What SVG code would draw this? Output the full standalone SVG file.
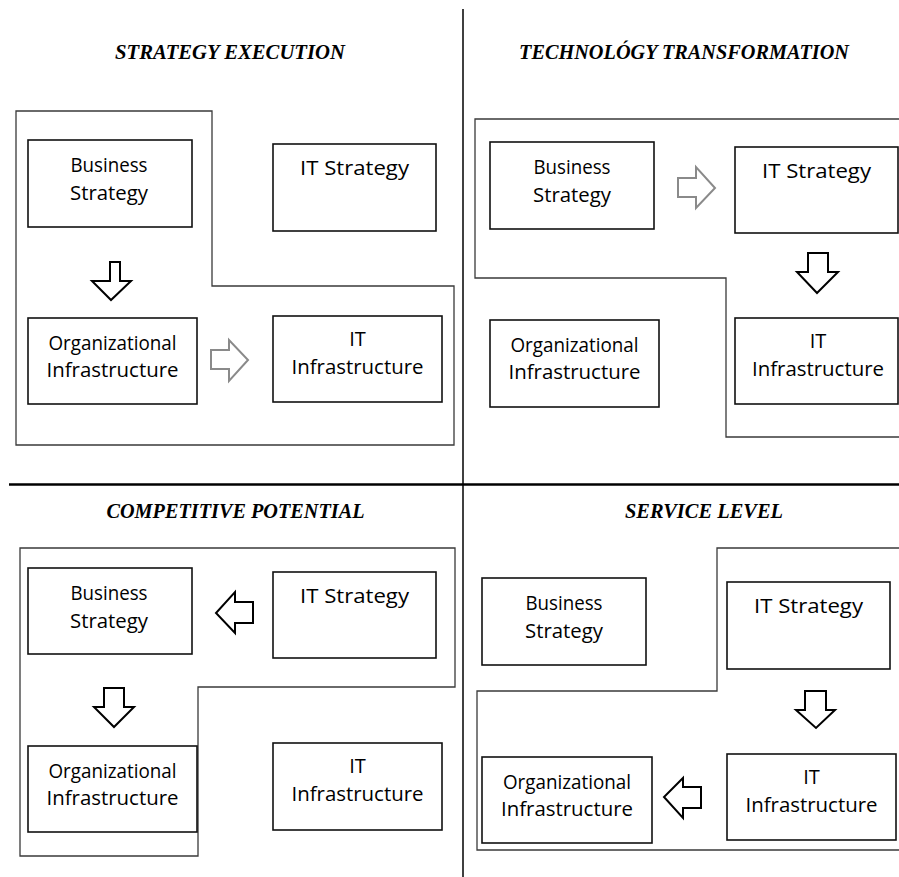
<svg xmlns="http://www.w3.org/2000/svg" width="899" height="877" viewBox="0 0 899 877">
  <style>
    .bg { fill: #ffffff; }
    .divider { stroke: #000; fill: none; }
    .frame { fill: none; stroke: #3a3a3a; stroke-width: 1.3; }
    .box rect { fill: #ffffff; stroke: #111; stroke-width: 1.6; }
    .box text { font-family: "Open Sans", "DejaVu Sans", sans-serif; font-size: 20px; fill: #000; text-anchor: middle; }
    .title { font-family: "Liberation Serif", "DejaVu Serif", serif; font-weight: bold; font-style: italic; font-size: 20px; fill: #000; text-anchor: middle; }
    .arrow { fill: #ffffff; stroke: #000; stroke-width: 2; stroke-linejoin: miter; }
    .arrow.gray { stroke: #8a8a8a; }
  </style>

  <rect class="bg" x="0" y="0" width="899" height="877"/>

  <!-- quadrant dividers -->
  <line class="divider" x1="463" y1="9" x2="463" y2="877" stroke-width="1.5"/>
  <line class="divider" x1="9" y1="484.5" x2="899" y2="484.5" stroke-width="2.6"/>

  <!-- quadrant titles -->
  <text class="title" x="230" y="59" textLength="230" lengthAdjust="spacingAndGlyphs">STRATEGY EXECUTION</text>
  <text class="title" x="684" y="59" textLength="330" lengthAdjust="spacingAndGlyphs">TECHNOLÓGY TRANSFORMATION</text>
  <text class="title" x="235.5" y="518" textLength="258" lengthAdjust="spacingAndGlyphs">COMPETITIVE POTENTIAL</text>
  <text class="title" x="704" y="518" textLength="158" lengthAdjust="spacingAndGlyphs">SERVICE LEVEL</text>

  <!-- alignment perspective outlines -->
  <g id="frames">
    <path class="frame" d="M16,111 H212 V286 H454 V445 H16 Z"/>
    <path class="frame" d="M905,119 H475 V278 H726 V437 H905"/>
    <path class="frame" d="M20,548 H455 V687 H198 V856 H20 Z"/>
    <path class="frame" d="M905,548 H717 V691 H477 V850 H905"/>
  </g>

  <!-- Strategy execution -->
  <g id="se-business-strategy" class="box">
    <rect x="28" y="140" width="164" height="87"/>
    <text x="109" y="171.5" textLength="77" lengthAdjust="spacingAndGlyphs">Business</text>
    <text x="109" y="200" textLength="78" lengthAdjust="spacingAndGlyphs">Strategy</text>
  </g>
  <g id="se-it-strategy" class="box">
    <rect x="273" y="144" width="163" height="87"/>
    <text x="354.5" y="175" textLength="109" lengthAdjust="spacingAndGlyphs">IT Strategy</text>
  </g>
  <g id="se-org-infrastructure" class="box">
    <rect x="28" y="318" width="169" height="86"/>
    <text x="112.5" y="349.5" textLength="128" lengthAdjust="spacingAndGlyphs">Organizational</text>
    <text x="112.5" y="377" textLength="132" lengthAdjust="spacingAndGlyphs">Infrastructure</text>
  </g>
  <g id="se-it-infrastructure" class="box">
    <rect x="273" y="316" width="169" height="86"/>
    <text x="357.5" y="346">IT</text>
    <text x="357.5" y="374" textLength="132" lengthAdjust="spacingAndGlyphs">Infrastructure</text>
  </g>

  <!-- Technology transformation -->
  <g id="tt-business-strategy" class="box">
    <rect x="490" y="142" width="164" height="87"/>
    <text x="572" y="173.5" textLength="77" lengthAdjust="spacingAndGlyphs">Business</text>
    <text x="572" y="202" textLength="78" lengthAdjust="spacingAndGlyphs">Strategy</text>
  </g>
  <g id="tt-it-strategy" class="box">
    <rect x="735" y="147" width="163" height="86"/>
    <text x="816.5" y="178" textLength="109" lengthAdjust="spacingAndGlyphs">IT Strategy</text>
  </g>
  <g id="tt-org-infrastructure" class="box">
    <rect x="490" y="320" width="169" height="87"/>
    <text x="574.5" y="351.5" textLength="128" lengthAdjust="spacingAndGlyphs">Organizational</text>
    <text x="574.5" y="379" textLength="132" lengthAdjust="spacingAndGlyphs">Infrastructure</text>
  </g>
  <g id="tt-it-infrastructure" class="box">
    <rect x="735" y="318" width="163" height="86"/>
    <text x="818" y="348">IT</text>
    <text x="818" y="376" textLength="132" lengthAdjust="spacingAndGlyphs">Infrastructure</text>
  </g>

  <!-- Competitive potential -->
  <g id="cp-business-strategy" class="box">
    <rect x="28" y="568" width="164" height="86"/>
    <text x="109" y="599.5" textLength="77" lengthAdjust="spacingAndGlyphs">Business</text>
    <text x="109" y="628" textLength="78" lengthAdjust="spacingAndGlyphs">Strategy</text>
  </g>
  <g id="cp-it-strategy" class="box">
    <rect x="273" y="572" width="163" height="86"/>
    <text x="354.5" y="603" textLength="109" lengthAdjust="spacingAndGlyphs">IT Strategy</text>
  </g>
  <g id="cp-org-infrastructure" class="box">
    <rect x="28" y="746" width="169" height="86"/>
    <text x="112.5" y="777.5" textLength="128" lengthAdjust="spacingAndGlyphs">Organizational</text>
    <text x="112.5" y="805" textLength="132" lengthAdjust="spacingAndGlyphs">Infrastructure</text>
  </g>
  <g id="cp-it-infrastructure" class="box">
    <rect x="273" y="743" width="169" height="87"/>
    <text x="357.5" y="773">IT</text>
    <text x="357.5" y="801" textLength="132" lengthAdjust="spacingAndGlyphs">Infrastructure</text>
  </g>

  <!-- Service level -->
  <g id="sl-business-strategy" class="box">
    <rect x="482" y="578" width="164" height="87"/>
    <text x="564" y="609.5" textLength="77" lengthAdjust="spacingAndGlyphs">Business</text>
    <text x="564" y="638" textLength="78" lengthAdjust="spacingAndGlyphs">Strategy</text>
  </g>
  <g id="sl-it-strategy" class="box">
    <rect x="727" y="582" width="163" height="87"/>
    <text x="808.5" y="613" textLength="109" lengthAdjust="spacingAndGlyphs">IT Strategy</text>
  </g>
  <g id="sl-org-infrastructure" class="box">
    <rect x="482" y="757" width="170" height="86"/>
    <text x="567" y="788.5" textLength="128" lengthAdjust="spacingAndGlyphs">Organizational</text>
    <text x="567" y="816" textLength="132" lengthAdjust="spacingAndGlyphs">Infrastructure</text>
  </g>
  <g id="sl-it-infrastructure" class="box">
    <rect x="727" y="754" width="169" height="86"/>
    <text x="811.5" y="784">IT</text>
    <text x="811.5" y="812" textLength="132" lengthAdjust="spacingAndGlyphs">Infrastructure</text>
  </g>

  <!-- block arrows between domains -->
  <g id="connectors">
    <polygon class="arrow" points="110,262 120,262 120,281 131,281 111,300 92,281 110,281"/>
    <polygon class="arrow gray" points="211,350 229,350 229,340 248,360 229,381 229,369 211,369"/>

    <polygon class="arrow gray" points="678,178 696,178 696,167 715,188 696,208 696,197 678,197"/>
    <polygon class="arrow" points="808,253 828,253 828,272 838,272 817,293 797,272 808,272"/>

    <polygon class="arrow" points="253,602 235,602 235,592 216,613 235,633 235,623 253,623"/>
    <polygon class="arrow" points="104,688 124,688 124,707 134,707 114,727 94,707 104,707"/>

    <polygon class="arrow" points="805,691 826,691 826,710 835,710 816,728 796,710 805,710"/>
    <polygon class="arrow" points="701,787 683,787 683,778 664,797 683,818 683,808 701,808"/>
  </g>
</svg>
